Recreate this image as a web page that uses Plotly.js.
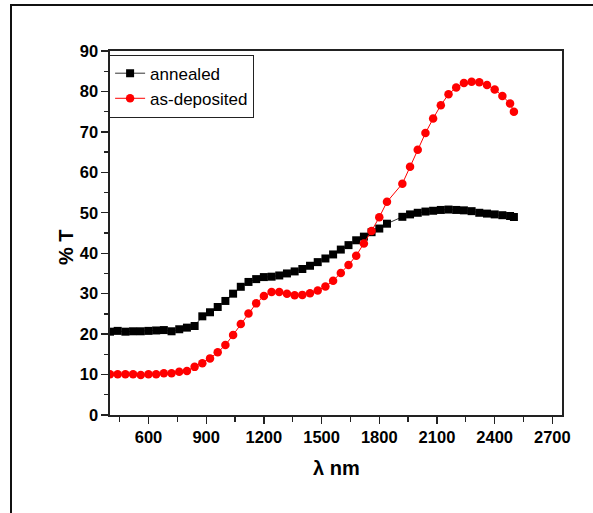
<!DOCTYPE html>
<html><head><meta charset="utf-8">
<script src="https://cdn.plot.ly/plotly-3.0.1.min.js"></script>
<style>
html,body{margin:0;padding:0;background:#fff;overflow:hidden}
#chart{position:absolute;left:0;top:0;width:593px;height:513px}
#frame{position:absolute;left:10px;top:4px;width:600px;height:530px;border-left:2px solid #111;border-top:2px solid #111;pointer-events:none}
</style>
</head><body>
<div id="chart"></div><div id="frame"></div>
<script>
const wavelength = [400,440,480,520,560,600,640,680,720,760,800,840,880,920,960,1000,1040,1080,1120,1160,
  1200,1240,1280,1320,1360,1400,1440,1480,1520,1560,1600,1640,1680,1720,1760,1800,1840,
  1920,1960,2000,2040,2080,2120,2160,2200,2240,2280,2320,2360,2400,2440,2480,2500];
const annealedT = [20.6,20.8,20.6,20.7,20.7,20.8,20.9,21.0,20.7,21.2,21.6,22.0,24.4,25.4,26.7,28.2,30.0,31.7,32.9,33.6,
  34.1,34.2,34.5,35.0,35.5,36.1,36.9,37.8,38.7,39.7,40.9,42.0,43.2,44.1,45.2,46.1,47.3,
  49.0,49.6,50.0,50.3,50.5,50.7,50.8,50.7,50.6,50.4,50.0,49.8,49.6,49.4,49.2,48.95];
const asDepositedT = [10.1,10.1,10.1,10.1,9.9,10.1,10.1,10.3,10.3,10.7,10.9,11.9,12.8,14.0,15.5,17.3,19.8,22.5,25.1,27.6,
  29.4,30.4,30.4,30.0,29.6,29.7,30.1,30.8,31.8,33.2,35.1,37.1,39.4,42.4,45.5,48.9,52.7,
  57.2,61.4,65.6,69.7,73.3,76.6,79.3,81.0,82.1,82.4,82.3,81.6,80.5,78.9,77.0,75.0];
const seriesNames = ['annealed','as-deposited'];
const xTicks = [600,900,1200,1500,1800,2100,2400,2700];
const yTicks = [0,10,20,30,40,50,60,70,80,90];

const fontFam = 'Arial, "Liberation Sans", sans-serif';
const traces = [
  {x: wavelength, y: annealedT, name: seriesNames[0], type:'scatter', mode:'lines+markers',
   line:{color:'#333333', width:1}, marker:{symbol:'square', size:8, color:'#000000'}},
  {x: wavelength, y: asDepositedT, name: seriesNames[1], type:'scatter', mode:'lines+markers',
   line:{color:'#ff0000', width:1}, marker:{symbol:'circle', size:8.5, color:'#ff0000'}}
];
const axisCommon = {
  showgrid:false, zeroline:false, showline:true, linecolor:'#222', linewidth:1.6, mirror:true,
  ticks:'outside', tickcolor:'#222', tickwidth:1.3, ticklen:7,
  tickfont:{family:fontFam, size:16.5, color:'#000', weight:'bold'}
};
const layout = {
  width:593, height:513,
  margin:{l:110, r:31, t:51, b:98},
  paper_bgcolor:'#fff', plot_bgcolor:'#fff',
  showlegend:true,
  legend:{x:-0.002, xanchor:'left', y:0.99, yanchor:'top', bgcolor:'#fff', bordercolor:'#222', borderwidth:1,
    font:{family:fontFam, size:17, color:'#000'}, tracegroupgap:0, itemwidth:30},
  xaxis: Object.assign({}, axisCommon, {range:[400,2750], tickmode:'array', tickvals:xTicks, ticktext:xTicks.map(String),
    minor:{dtick:150, tick0:450, ticks:'outside', ticklen:5, tickcolor:'#222', tickwidth:1.3}}),
  yaxis: Object.assign({}, axisCommon, {range:[0,90], tickmode:'array', tickvals:yTicks, ticktext:yTicks.map(String),
    minor:{dtick:5, tick0:5, ticks:'outside', ticklen:4, tickcolor:'#222', tickwidth:1.3}}),
  annotations:[
    {text:'% T', xref:'paper', yref:'paper', x:(66-110)/452, y:(415-247)/364, xanchor:'center', yanchor:'middle',
     textangle:-90, showarrow:false, font:{family:fontFam, size:20, color:'#000', weight:'bold'}},
    {text:'λ nm', xref:'paper', yref:'paper', x:(336-110)/452, y:(415-468)/364, xanchor:'center', yanchor:'middle',
     showarrow:false, font:{family:fontFam, size:20, color:'#000', weight:'bold'}}
  ]
};
Plotly.newPlot('chart', traces, layout, {displayModeBar:false, staticPlot:true});
</script>
</body></html>
